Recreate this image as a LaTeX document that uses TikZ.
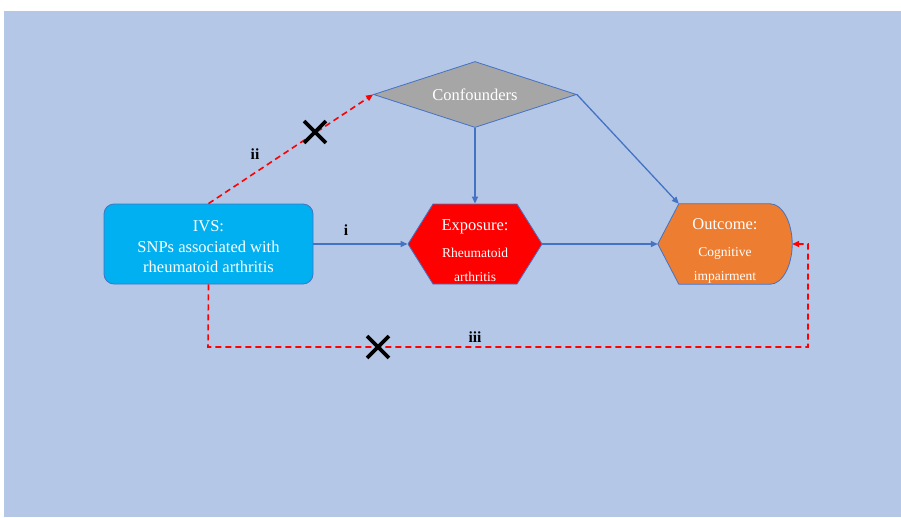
\documentclass[tikz,border=0pt]{standalone}
\usepackage{fontspec}
\setmainfont{Liberation Serif}
\usetikzlibrary{arrows.meta,shapes.geometric,shapes.symbols,shapes.misc,calc,backgrounds}
\definecolor{bgblue}{HTML}{B4C7E7}
\definecolor{edgeblue}{HTML}{4472C4}
\definecolor{ivsblue}{HTML}{00B0F0}
\definecolor{outorange}{HTML}{ED7D31}
\definecolor{confgray}{HTML}{A6A6A6}
\definecolor{linkred}{HTML}{FF0000}

\begin{document}
\begin{tikzpicture}[x=1pt,y=-1pt,>={Triangle[length=7pt,width=6pt]}]
\tikzset{box/.style={draw=edgeblue,line width=0.8pt,text=white,align=center,inner sep=0pt},
  big/.style={font=\fontsize{16.5}{20.5}\selectfont},
  small/.style={font=\fontsize{13.5}{24}\selectfont},
  link/.style={->,draw=edgeblue,line width=1.3pt},
  nolink/.style={->,draw=linkred,line width=1.6pt,dash pattern=on 6pt off 4pt},
  crossx/.style={cross out,draw=black,line width=3.8pt,minimum size=18pt,inner sep=0pt},
  tag/.style={font=\fontsize{15.5}{15.5}\selectfont\bfseries}}
\useasboundingbox (0,0) rectangle (901,517);
\node[box,diamond,aspect=3,fill=confgray,minimum width=203pt,minimum height=66pt,big] (conf) at (475,94.5) {Confounders};
\node[box,rectangle,rounded corners=10pt,fill=ivsblue,minimum width=209pt,minimum height=80pt,big] (ivs) at (208.5,244) {\rule{0pt}{17pt}IVS:\\SNPs associated with\\rheumatoid arthritis};
\node[box,signal,signal to=west and east,signal pointer angle=116,fill=linkred,minimum width=134pt,minimum height=80pt,small] (exp) at (475,244) {\rule{0pt}{24pt}{\fontsize{16.5}{16.5}\selectfont Exposure:}\\[3pt]Rheumatoid\\arthritis};
\node[text=white,align=center,inner sep=0pt,minimum width=134pt,minimum height=80pt,small] (out) at (725,244) {\rule{0pt}{24pt}{\fontsize{16.5}{16.5}\selectfont Outcome:}\\[3pt]Cognitive\\impairment};
\coordinate (outtl) at ($(out.north west)+(21,0)$);
\coordinate (cornl) at (208,347);
\coordinate (cornr) at (808,347);
\begin{scope}[on background layer]
\fill[bgblue] (4,11) rectangle (901,517);
\filldraw[fill=outorange,draw=edgeblue,line width=0.8pt] (out.west) -- (outtl) -- ($(out.north east)+(-22,0)$)
  .. controls ($(out.north east)+(-10,0)$) and ($(out.east)+(0,-22)$) .. (out.east)
  .. controls ($(out.east)+(0,22)$) and ($(out.south east)+(-10,0)$) .. ($(out.south east)+(-22,0)$)
  -- ($(out.south west)+(21,0)$) -- cycle;
\end{scope}
\draw[link] (ivs.east) -- (exp.west);
\draw[link] (exp.east) -- (out.west);
\draw[link] (conf.south) -- (exp.north);
\draw[link] (conf.east) -- (outtl);
\draw[nolink] (ivs.north) -- (conf.west);
\draw[nolink] (ivs.south) -- (cornl) -- (cornr) |- (out.east);
\node[crossx] (xa) at (315,132) {};
\node[crossx] (xb) at (378,347) {};
\node[tag] (ti) at (346,230) {i};
\node[tag] (tii) at (255,154) {ii};
\node[tag] (tiii) at (475,337) {iii};
\end{tikzpicture}
\end{document}
